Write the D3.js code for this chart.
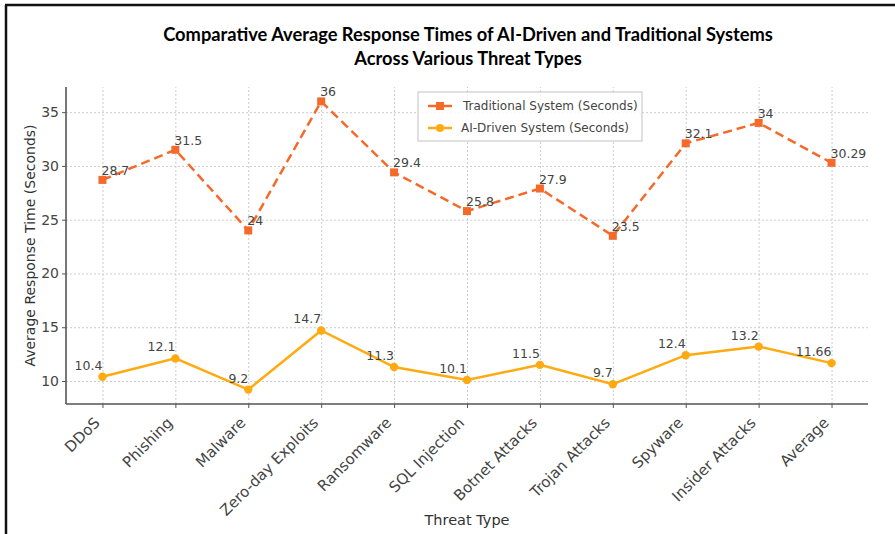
<!DOCTYPE html>
<meta charset="utf-8">
<head>
<style type="text/css">
  body { margin: 0; background: #fff; }
  .tick text { font-family: "DejaVu Sans", sans-serif; fill: #444; }
  .grid line { stroke: #ccc; stroke-dasharray: 2,2; }
  .grid .domain { display: none; }
</style>
</head>
<script src="https://cdn.jsdelivr.net/npm/d3@7/dist/d3.min.js"></script>
<body>
<div id="vis"></div>
<script>
var width = 895,
    height = 534;

// data
var threats = ["DDoS", "Phishing", "Malware", "Zero-day Exploits", "Ransomware", "SQL Injection",
               "Botnet Attacks", "Trojan Attacks", "Spyware", "Insider Attacks", "Average"];
var traditional = [28.7, 31.5, 24, 36, 29.4, 25.8, 27.9, 23.5, 32.1, 34, 30.29];
var aiDriven = [10.4, 12.1, 9.2, 14.7, 11.3, 10.1, 11.5, 9.7, 12.4, 13.2, 11.66];
var yTicks = [10, 15, 20, 25, 30, 35];

var tradColor = "#f5692a",
    aiColor = "#ffaa10";

var svg = d3.select("#vis").append("svg")
    .attr("width", width)
    .attr("height", height);

// frame of the screenshot
svg.append("line").attr("x1", 5).attr("x2", width).attr("y1", 5).attr("y2", 5)
    .attr("stroke", "#111").attr("stroke-width", 2.5);
svg.append("line").attr("x1", 6).attr("x2", 6).attr("y1", 5).attr("y2", height)
    .attr("stroke", "#111").attr("stroke-width", 2.5);

var margin = {top: 87, left: 66, bottom: 130, right: 27},
    chartWidth = width - margin.left - margin.right,
    chartHeight = height - margin.top - margin.bottom;

var g = svg.append("g")
    .attr("transform", "translate(" + margin.left + "," + margin.top + ")");

var x = d3.scaleLinear()
    .domain([-0.5, threats.length - 0.5])
    .range([0, chartWidth]);
var yMin = d3.min(aiDriven), yMax = d3.max(traditional), pad = (yMax - yMin) * 0.05;
var y = d3.scaleLinear()
    .domain([yMin - pad, yMax + pad])
    .range([chartHeight, 0]);

var idx = d3.range(threats.length);

// grid
g.append("g").attr("class", "grid")
    .attr("transform", "translate(0," + chartHeight + ")")
    .call(d3.axisBottom(x).tickValues(idx).tickSize(-chartHeight).tickFormat(""));
g.append("g").attr("class", "grid")
    .call(d3.axisLeft(y).tickValues(yTicks).tickSize(-chartWidth).tickFormat(""));

// axes
var xAxis = g.append("g")
    .attr("transform", "translate(0," + chartHeight + ")")
    .call(d3.axisBottom(x).tickValues(idx).tickSize(4).tickFormat(function(i) { return threats[i]; }));
xAxis.selectAll("text")
    .attr("font-size", "15px")
    .attr("text-anchor", "end")
    .attr("y", 0)
    .attr("dy", "0.35em")
    .attr("transform", "translate(-6,16) rotate(-45)");
var yAxis = g.append("g")
    .call(d3.axisLeft(y).tickValues(yTicks).tickSize(4));
yAxis.selectAll("text").attr("font-size", "14px");
[xAxis, yAxis].forEach(function(a) {
  a.select(".domain").attr("stroke", "#555").attr("stroke-width", 1.6);
  a.selectAll(".tick line").attr("stroke", "#555");
});
xAxis.select(".domain").attr("d", "M0,0H" + chartWidth);
yAxis.select(".domain").attr("d", "M0,0V" + chartHeight);

// lines
var line = function(vals) {
  return d3.line().x(function(d, i) { return x(i); }).y(function(d) { return y(d); })(vals);
};
g.append("path").attr("d", line(traditional))
    .attr("fill", "none").attr("stroke", tradColor).attr("stroke-width", 2.5)
    .attr("stroke-dasharray", "9,5");
g.append("path").attr("d", line(aiDriven))
    .attr("fill", "none").attr("stroke", aiColor).attr("stroke-width", 2.5);

g.selectAll(".sq").data(traditional).enter().append("rect")
    .attr("x", function(d, i) { return x(i) - 4; })
    .attr("y", function(d) { return y(d) - 4; })
    .attr("width", 8).attr("height", 8)
    .attr("fill", tradColor);
g.selectAll(".dot").data(aiDriven).enter().append("circle")
    .attr("cx", function(d, i) { return x(i); })
    .attr("cy", function(d) { return y(d); })
    .attr("r", 4.2)
    .attr("fill", aiColor);

// value labels
g.selectAll(".tlab").data(traditional).enter().append("text")
    .attr("x", function(d, i) { return x(i) - 1; })
    .attr("y", function(d) { return y(d) - 5; })
    .attr("font-family", "DejaVu Sans").attr("font-size", "12.5px").attr("fill", "#444")
    .text(function(d) { return d; });
g.selectAll(".alab").data(aiDriven).enter().append("text")
    .attr("x", function(d, i) { return x(i); })
    .attr("y", function(d) { return y(d) - 7; })
    .attr("text-anchor", "end")
    .attr("font-family", "DejaVu Sans").attr("font-size", "12.5px").attr("fill", "#444")
    .text(function(d) { return d; });

// legend
var leg = svg.append("g").attr("transform", "translate(418,92)");
leg.append("rect").attr("width", 224).attr("height", 49)
    .attr("fill", "#fff").attr("fill-opacity", 0.85)
    .attr("stroke", "#ccc").attr("stroke-width", 1.2);
var legItems = [
  {name: "Traditional System (Seconds)", color: tradColor, shape: "square", tx: 45, ty: 14},
  {name: "AI-Driven System (Seconds)", color: aiColor, shape: "circle", tx: 43, ty: 36}
];
legItems.forEach(function(d) {
  leg.append("line").attr("x1", 10).attr("x2", 34).attr("y1", d.ty).attr("y2", d.ty)
      .attr("stroke", d.color).attr("stroke-width", 2.5);
  if (d.shape == "square")
    leg.append("rect").attr("x", 18).attr("y", d.ty - 4).attr("width", 8).attr("height", 8).attr("fill", d.color);
  else
    leg.append("circle").attr("cx", 22).attr("cy", d.ty).attr("r", 4).attr("fill", d.color);
  leg.append("text").attr("x", d.tx).attr("y", d.ty).attr("dy", "0.35em")
      .attr("font-family", "DejaVu Sans").attr("font-size", "12px").attr("fill", "#444")
      .text(d.name);
});

// axis titles
svg.append("text")
    .attr("text-anchor", "middle")
    .attr("transform", "translate(35," + (margin.top + chartHeight / 2) + ") rotate(-90)")
    .attr("font-family", "DejaVu Sans").attr("font-size", "14px").attr("fill", "#333")
    .text("Average Response Time (Seconds)");
svg.append("text")
    .attr("text-anchor", "middle")
    .attr("x", margin.left + chartWidth / 2).attr("y", 525)
    .attr("font-family", "DejaVu Sans").attr("font-size", "14.5px").attr("fill", "#333")
    .text("Threat Type");

// title
var title = ["Comparative Average Response Times of AI-Driven and Traditional Systems",
             "Across Various Threat Types"];
svg.selectAll(".title").data(title).enter().append("text")
    .attr("text-anchor", "middle")
    .attr("x", 468).attr("y", function(d, i) { return 41 + i * 24; })
    .attr("font-family", "Lato, sans-serif").attr("font-weight", "bold")
    .attr("font-size", "18.3px").attr("fill", "#000")
    .text(function(d) { return d; });
</script>
</body>
